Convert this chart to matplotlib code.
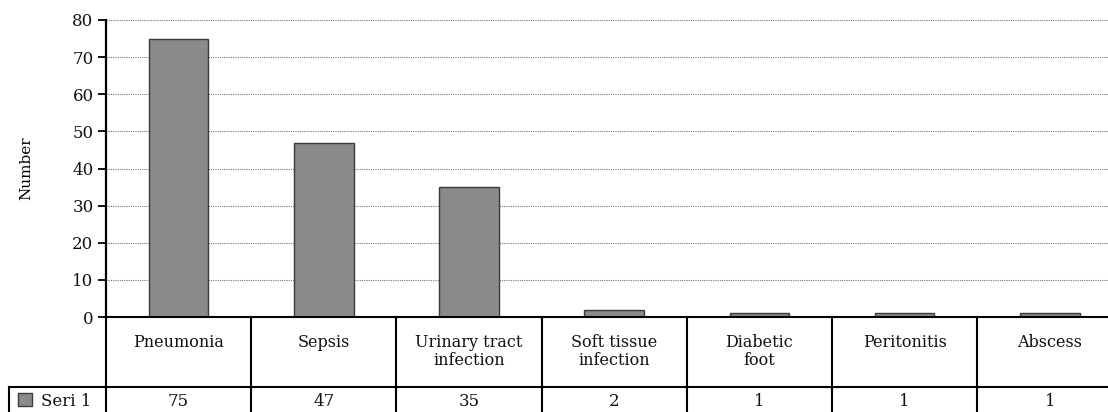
import matplotlib
matplotlib.use("Agg")
import matplotlib.pyplot as plt
from matplotlib.patches import Rectangle
from matplotlib.lines import Line2D

# --- data ---
categories = ["Pneumonia", "Sepsis", "Urinary tract\ninfection", "Soft tissue\ninfection",
              "Diabetic\nfoot", "Peritonitis", "Abscess"]
values = [75, 47, 35, 2, 1, 1, 1]
series_name = "Seri 1"
yticks = [0, 10, 20, 30, 40, 50, 60, 70, 80]

plt.rcParams["font.family"] = ["DejaVu Serif"]
plt.rcParams["font.size"] = 11

W, H = 1108, 412
fig = plt.figure(figsize=(W / 100, H / 100), dpi=100)

# pixel layout (columns run past the right edge, like the source)
x0, colw = 106, 145.2
y_top, y_base, y_row, y_bot = 20, 317, 387, 414
x_right = x0 + colw * len(categories)

ax = fig.add_axes([x0 / W, (H - y_base) / H, (x_right - x0) / W, (y_base - y_top) / H])
xs = list(range(len(categories)))
ax.bar(xs, values, width=0.41, color="#8a8a8a", edgecolor="#3a3a3a", linewidth=1, zorder=3)
ax.set_xlim(-0.5, len(categories) - 0.5)
ax.set_ylim(0, 80)
ax.set_yticks(yticks)
ax.set_xticks([])
ax.grid(axis="y", linestyle=(0, (1, 1)), color="#777777", linewidth=0.8, zorder=0)
for s in ["top", "right", "bottom"]:
    ax.spines[s].set_visible(False)
ax.spines["left"].set_linewidth(1.6)
ax.tick_params(axis="y", length=6, width=1.4, pad=3, labelsize=12, colors="#111111")
ax.set_ylabel("Number", fontsize=11, labelpad=28)

# --- data table under the axes ---
tleft = 9
tax = fig.add_axes([tleft / W, (H - y_bot) / H, (x_right - tleft) / W, (y_bot - y_base) / H])
tax.set_xlim(-0.5 - (x0 - tleft) / colw, len(categories) - 0.5)
tax.set_ylim(y_bot, y_base)
tax.axis("off")

lk = dict(color="black", linewidth=1.5, clip_on=False)
tax.add_line(Line2D([-0.5, len(categories) - 0.5], [y_base, y_base], **lk))
tax.add_line(Line2D([tax.get_xlim()[0], len(categories) - 0.5], [y_row, y_row], **lk))
tax.add_line(Line2D([tax.get_xlim()[0], len(categories) - 0.5], [y_bot, y_bot], **lk))
tax.add_line(Line2D([tax.get_xlim()[0]] * 2, [y_row, y_bot], **lk))
for k in range(len(categories) + 1):
    tax.add_line(Line2D([k - 0.5, k - 0.5], [y_base, y_bot], **lk))

for i, (cat, v) in enumerate(zip(categories, values)):
    tax.text(i, y_base + 17, cat, ha="center", va="top", fontsize=11.5,
             linespacing=1.1, color="#111111")
    tax.text(i, (y_row + y_bot) / 2 + 1, str(v), ha="center", va="center",
             fontsize=12, color="#111111")

# legend swatch + series name
sx = tax.get_xlim()[0] + 9 / colw
tax.add_patch(Rectangle((sx, 393), 14 / colw, 13, facecolor="#8a8a8a",
                        edgecolor="#3a3a3a", linewidth=1, clip_on=False))
tax.text(sx + 23 / colw, (y_row + y_bot) / 2 + 1, series_name, ha="left",
         va="center", fontsize=12, color="#111111")

fig.savefig("out.png", dpi=100)
